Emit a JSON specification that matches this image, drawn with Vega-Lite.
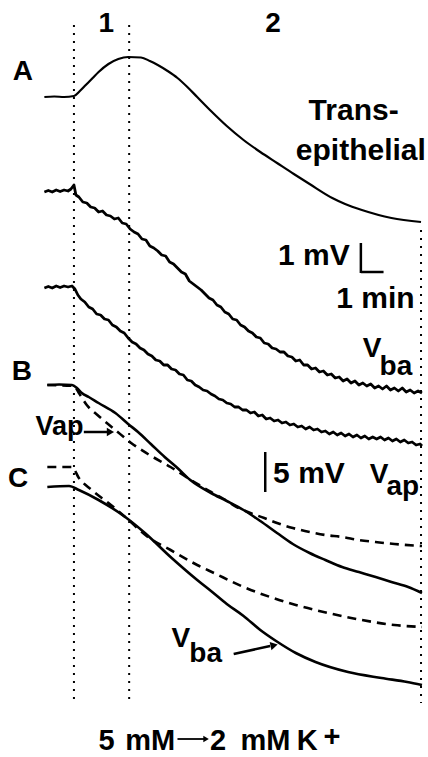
{
"$schema": "https://vega.github.io/schema/vega-lite/v6.json",
"width": 428, "height": 757, "padding": 0,
"autosize": {"type": "fit", "contains": "padding"},
"background": "white",
"config": {"view": {"stroke": null}},
"datasets": {
"traces": [
{"trace":"A","t":45,"v":97},{"trace":"A","t":55,"v":96.5},{"trace":"A","t":65,"v":97},{"trace":"A","t":75,"v":96},{"trace":"A","t":81,"v":91},{"trace":"A","t":87,"v":85},{"trace":"A","t":94,"v":78},{"trace":"A","t":100,"v":72},{"trace":"A","t":110,"v":64},{"trace":"A","t":120,"v":59},{"trace":"A","t":130,"v":57},{"trace":"A","t":143,"v":57.5},{"trace":"A","t":152,"v":61},{"trace":"A","t":160,"v":65},{"trace":"A","t":170,"v":71},{"trace":"A","t":180,"v":78},{"trace":"A","t":190,"v":87},{"trace":"A","t":200,"v":97},{"trace":"A","t":214,"v":111},{"trace":"A","t":230,"v":126},{"trace":"A","t":247,"v":140},{"trace":"A","t":264,"v":152},{"trace":"A","t":281,"v":163},{"trace":"A","t":298,"v":174},{"trace":"A","t":314,"v":184},{"trace":"A","t":337,"v":198},{"trace":"A","t":350,"v":204},{"trace":"A","t":367,"v":210},{"trace":"A","t":397,"v":218},{"trace":"A","t":427,"v":222},
{"trace":"N1","t":45,"v":192},{"trace":"N1","t":49,"v":190.5},{"trace":"N1","t":53,"v":192},{"trace":"N1","t":57,"v":190},{"trace":"N1","t":61,"v":191.5},{"trace":"N1","t":65,"v":190},{"trace":"N1","t":69,"v":191},{"trace":"N1","t":72,"v":189},{"trace":"N1","t":75,"v":185},{"trace":"N1","t":77,"v":195},{"trace":"N1","t":80,"v":197},{"trace":"N1","t":84,"v":202},{"trace":"N1","t":88,"v":203},{"trace":"N1","t":92,"v":207},{"trace":"N1","t":96,"v":208},{"trace":"N1","t":100,"v":212},{"trace":"N1","t":104,"v":211},{"trace":"N1","t":108,"v":215},{"trace":"N1","t":112,"v":216},{"trace":"N1","t":116,"v":219},{"trace":"N1","t":120,"v":218},{"trace":"N1","t":124,"v":223},{"trace":"N1","t":128,"v":224},{"trace":"N1","t":132,"v":229},{"trace":"N1","t":136,"v":232},{"trace":"N1","t":140,"v":234},{"trace":"N1","t":144,"v":239},{"trace":"N1","t":148,"v":240},{"trace":"N1","t":152,"v":246},{"trace":"N1","t":156,"v":248},{"trace":"N1","t":160,"v":251},{"trace":"N1","t":164,"v":255},{"trace":"N1","t":168,"v":256},{"trace":"N1","t":172,"v":262},{"trace":"N1","t":176,"v":264},{"trace":"N1","t":180,"v":268},{"trace":"N1","t":184,"v":272},{"trace":"N1","t":188,"v":274},{"trace":"N1","t":192,"v":281},{"trace":"N1","t":196,"v":284},{"trace":"N1","t":200,"v":287},{"trace":"N1","t":204,"v":290},{"trace":"N1","t":208,"v":294},{"trace":"N1","t":212,"v":298},{"trace":"N1","t":216,"v":300},{"trace":"N1","t":220,"v":305},{"trace":"N1","t":224,"v":307},{"trace":"N1","t":228,"v":312},{"trace":"N1","t":232,"v":314},{"trace":"N1","t":236,"v":319},{"trace":"N1","t":240,"v":320},{"trace":"N1","t":244,"v":325},{"trace":"N1","t":248,"v":327},{"trace":"N1","t":252,"v":331},{"trace":"N1","t":256,"v":333},{"trace":"N1","t":260,"v":337},{"trace":"N1","t":264,"v":338},{"trace":"N1","t":268,"v":343},{"trace":"N1","t":272,"v":344},{"trace":"N1","t":276,"v":348},{"trace":"N1","t":280,"v":349},{"trace":"N1","t":284,"v":352},{"trace":"N1","t":288,"v":352},{"trace":"N1","t":292,"v":356},{"trace":"N1","t":296,"v":357},{"trace":"N1","t":300,"v":361},{"trace":"N1","t":304,"v":360},{"trace":"N1","t":308,"v":365},{"trace":"N1","t":312,"v":365},{"trace":"N1","t":316,"v":369},{"trace":"N1","t":320,"v":368},{"trace":"N1","t":324,"v":372},{"trace":"N1","t":328,"v":371},{"trace":"N1","t":332,"v":375},{"trace":"N1","t":336,"v":374},{"trace":"N1","t":340,"v":378},{"trace":"N1","t":344,"v":377},{"trace":"N1","t":348,"v":381},{"trace":"N1","t":352,"v":379},{"trace":"N1","t":356,"v":383},{"trace":"N1","t":360,"v":381},{"trace":"N1","t":364,"v":385},{"trace":"N1","t":368,"v":383},{"trace":"N1","t":372,"v":386},{"trace":"N1","t":376,"v":384},{"trace":"N1","t":380,"v":388},{"trace":"N1","t":384,"v":386},{"trace":"N1","t":388,"v":389},{"trace":"N1","t":392,"v":386},{"trace":"N1","t":396,"v":390},{"trace":"N1","t":400,"v":388},{"trace":"N1","t":404,"v":391},{"trace":"N1","t":408,"v":388},{"trace":"N1","t":412,"v":392},{"trace":"N1","t":416,"v":390},{"trace":"N1","t":420,"v":393},{"trace":"N1","t":424,"v":391},{"trace":"N1","t":428,"v":393},
{"trace":"N2","t":45,"v":288},{"trace":"N2","t":49,"v":286.5},{"trace":"N2","t":53,"v":288},{"trace":"N2","t":57,"v":286},{"trace":"N2","t":61,"v":287.5},{"trace":"N2","t":65,"v":286},{"trace":"N2","t":69,"v":287},{"trace":"N2","t":73,"v":286},{"trace":"N2","t":76,"v":289},{"trace":"N2","t":79,"v":295},{"trace":"N2","t":82,"v":299},{"trace":"N2","t":86,"v":302},{"trace":"N2","t":90,"v":307},{"trace":"N2","t":94,"v":309},{"trace":"N2","t":98,"v":314},{"trace":"N2","t":102,"v":315},{"trace":"N2","t":106,"v":319},{"trace":"N2","t":110,"v":320},{"trace":"N2","t":114,"v":325},{"trace":"N2","t":118,"v":327},{"trace":"N2","t":122,"v":331},{"trace":"N2","t":126,"v":333},{"trace":"N2","t":130,"v":338},{"trace":"N2","t":134,"v":342},{"trace":"N2","t":138,"v":344},{"trace":"N2","t":142,"v":348},{"trace":"N2","t":146,"v":350},{"trace":"N2","t":150,"v":354},{"trace":"N2","t":154,"v":356},{"trace":"N2","t":158,"v":360},{"trace":"N2","t":162,"v":361},{"trace":"N2","t":166,"v":365},{"trace":"N2","t":170,"v":365},{"trace":"N2","t":174,"v":369},{"trace":"N2","t":178,"v":370},{"trace":"N2","t":182,"v":374},{"trace":"N2","t":186,"v":375},{"trace":"N2","t":190,"v":380},{"trace":"N2","t":194,"v":381},{"trace":"N2","t":198,"v":385},{"trace":"N2","t":202,"v":387},{"trace":"N2","t":206,"v":390},{"trace":"N2","t":210,"v":391},{"trace":"N2","t":214,"v":394},{"trace":"N2","t":218,"v":396},{"trace":"N2","t":222,"v":399},{"trace":"N2","t":226,"v":400},{"trace":"N2","t":230,"v":403},{"trace":"N2","t":234,"v":404},{"trace":"N2","t":238,"v":407},{"trace":"N2","t":242,"v":407},{"trace":"N2","t":246,"v":410},{"trace":"N2","t":250,"v":410},{"trace":"N2","t":254,"v":413},{"trace":"N2","t":258,"v":412},{"trace":"N2","t":262,"v":416},{"trace":"N2","t":266,"v":415},{"trace":"N2","t":270,"v":419},{"trace":"N2","t":274,"v":418},{"trace":"N2","t":278,"v":421},{"trace":"N2","t":282,"v":420},{"trace":"N2","t":286,"v":423},{"trace":"N2","t":290,"v":422},{"trace":"N2","t":294,"v":425},{"trace":"N2","t":298,"v":424},{"trace":"N2","t":302,"v":427},{"trace":"N2","t":306,"v":426},{"trace":"N2","t":310,"v":429},{"trace":"N2","t":314,"v":427},{"trace":"N2","t":318,"v":430},{"trace":"N2","t":322,"v":429},{"trace":"N2","t":326,"v":432},{"trace":"N2","t":330,"v":431},{"trace":"N2","t":334,"v":434},{"trace":"N2","t":338,"v":432},{"trace":"N2","t":342,"v":435},{"trace":"N2","t":346,"v":433},{"trace":"N2","t":350,"v":436},{"trace":"N2","t":354,"v":434},{"trace":"N2","t":358,"v":437},{"trace":"N2","t":362,"v":435},{"trace":"N2","t":366,"v":438},{"trace":"N2","t":370,"v":436},{"trace":"N2","t":374,"v":439},{"trace":"N2","t":378,"v":437},{"trace":"N2","t":382,"v":439},{"trace":"N2","t":386,"v":437},{"trace":"N2","t":390,"v":440},{"trace":"N2","t":394,"v":438},{"trace":"N2","t":398,"v":441},{"trace":"N2","t":402,"v":439},{"trace":"N2","t":406,"v":442},{"trace":"N2","t":410,"v":440},{"trace":"N2","t":414,"v":443},{"trace":"N2","t":418,"v":442},{"trace":"N2","t":422,"v":445},{"trace":"N2","t":426,"v":444},{"trace":"N2","t":428,"v":446},
{"trace":"Bs","t":48,"v":385},{"trace":"Bs","t":60,"v":384.5},{"trace":"Bs","t":73,"v":385},{"trace":"Bs","t":78,"v":388},{"trace":"Bs","t":83,"v":393},{"trace":"Bs","t":90,"v":397},{"trace":"Bs","t":100,"v":403},{"trace":"Bs","t":117,"v":413},{"trace":"Bs","t":130,"v":424},{"trace":"Bs","t":140,"v":432},{"trace":"Bs","t":153,"v":444},{"trace":"Bs","t":167,"v":457},{"trace":"Bs","t":180,"v":468},{"trace":"Bs","t":193,"v":480},{"trace":"Bs","t":214,"v":493},{"trace":"Bs","t":230,"v":501},{"trace":"Bs","t":247,"v":510},{"trace":"Bs","t":264,"v":521},{"trace":"Bs","t":281,"v":533},{"trace":"Bs","t":297,"v":544},{"trace":"Bs","t":314,"v":553},{"trace":"Bs","t":330,"v":560},{"trace":"Bs","t":347,"v":567},{"trace":"Bs","t":364,"v":572},{"trace":"Bs","t":381,"v":577},{"trace":"Bs","t":397,"v":582},{"trace":"Bs","t":414,"v":587},{"trace":"Bs","t":428,"v":593},
{"trace":"Bd","t":48,"v":385},{"trace":"Bd","t":75,"v":386},{"trace":"Bd","t":80,"v":393},{"trace":"Bd","t":88,"v":405},{"trace":"Bd","t":100,"v":416},{"trace":"Bd","t":117,"v":430},{"trace":"Bd","t":133,"v":443},{"trace":"Bd","t":150,"v":454},{"trace":"Bd","t":173,"v":467},{"trace":"Bd","t":197,"v":482},{"trace":"Bd","t":214,"v":492},{"trace":"Bd","t":227,"v":499},{"trace":"Bd","t":240,"v":507},{"trace":"Bd","t":254,"v":513},{"trace":"Bd","t":268,"v":518},{"trace":"Bd","t":281,"v":523},{"trace":"Bd","t":297,"v":528},{"trace":"Bd","t":314,"v":532},{"trace":"Bd","t":330,"v":535},{"trace":"Bd","t":347,"v":537},{"trace":"Bd","t":364,"v":540},{"trace":"Bd","t":381,"v":542},{"trace":"Bd","t":400,"v":544},{"trace":"Bd","t":428,"v":546},
{"trace":"Cd","t":48,"v":467},{"trace":"Cd","t":73,"v":467},{"trace":"Cd","t":80,"v":478},{"trace":"Cd","t":93,"v":490},{"trace":"Cd","t":110,"v":503},{"trace":"Cd","t":127,"v":517},{"trace":"Cd","t":150,"v":537},{"trace":"Cd","t":173,"v":550},{"trace":"Cd","t":200,"v":565},{"trace":"Cd","t":217,"v":573},{"trace":"Cd","t":247,"v":587},{"trace":"Cd","t":274,"v":597},{"trace":"Cd","t":300,"v":605},{"trace":"Cd","t":333,"v":613},{"trace":"Cd","t":367,"v":620},{"trace":"Cd","t":400,"v":625},{"trace":"Cd","t":428,"v":627},
{"trace":"Cs","t":48,"v":487},{"trace":"Cs","t":70,"v":486},{"trace":"Cs","t":80,"v":490},{"trace":"Cs","t":100,"v":500},{"trace":"Cs","t":127,"v":517},{"trace":"Cs","t":147,"v":533},{"trace":"Cs","t":173,"v":557},{"trace":"Cs","t":200,"v":580},{"trace":"Cs","t":214,"v":591},{"trace":"Cs","t":230,"v":604},{"trace":"Cs","t":247,"v":616},{"trace":"Cs","t":264,"v":630},{"trace":"Cs","t":280,"v":641},{"trace":"Cs","t":300,"v":653},{"trace":"Cs","t":320,"v":662},{"trace":"Cs","t":353,"v":672},{"trace":"Cs","t":387,"v":678},{"trace":"Cs","t":413,"v":682},{"trace":"Cs","t":428,"v":685}
],
"dots": [{"t":75,"v":25,"t2":75,"v2":703},{"t":131,"v":25,"t2":131,"v2":703},{"t":427,"v":230,"t2":427,"v2":703}],
"bars": [{"t":366,"v":243,"t2":366,"v2":273},{"t":366,"v":272,"t2":389,"v2":272},{"t":269,"v":452,"t2":269,"v2":492},{"t":85,"v":432,"t2":110,"v2":432},{"t":237,"v":654,"t2":274,"v2":646}],
"heads": [{"t":112,"v":432,"dir":0},{"t":278,"v":645.3,"dir":-12}],
"kline": [{"t":180,"v":739,"t2":207,"v2":739}],
"khead": [{"t":209,"v":739,"dir":0}],
"labels28": [{"label":"1","t":100,"v":32},{"label":"2","t":269,"v":32},{"label":"A","t":13,"v":80},{"label":"B","t":12,"v":380},{"label":"C","t":8,"v":487},{"label":"V","t":368,"v":357},{"label":"ba","t":385,"v":375},{"label":"V","t":375,"v":483},{"label":"ap","t":392,"v":495},{"label":"V","t":174,"v":647},{"label":"ba","t":192,"v":662}],
"labels30": [{"label":"Trans-","t":313,"v":120},{"label":"epithelial","t":300,"v":160},{"label":"1 mV","t":282,"v":265},{"label":"1 min","t":341,"v":308},{"label":"5 mV","t":277,"v":483}],
"bottom": [{"label":"5","t":100,"v":750},{"label":"mM","t":127,"v":750},{"label":"2","t":213,"v":750},{"label":"mM","t":244,"v":750},{"label":"K","t":301,"v":750},{"label":"+","t":328,"v":746}],
"vap": [{"label":"Vap","t":36,"v":435}]
},
"encoding": {
"x": {"field":"t","type":"quantitative","scale":{"domain":[0,428],"nice":false,"zero":false},"axis":null},
"y": {"field":"v","type":"quantitative","scale":{"domain":[0,757],"nice":false,"zero":false,"reverse":true},"axis":null}
},
"layer": [
{"data":{"name":"dots"},"mark":{"type":"rule","color":"black","strokeWidth":2,"strokeDash":[2,6]},"encoding":{"x2":{"field":"t2"},"y2":{"field":"v2"}}},
{"data":{"name":"traces"},"transform":[{"filter":"datum.trace==='A'"}],"mark":{"type":"line","color":"black","strokeWidth":2.2,"interpolate":"monotone"}},
{"data":{"name":"traces"},"transform":[{"filter":"datum.trace==='N1' || datum.trace==='N2'"}],"mark":{"type":"line","color":"black","strokeWidth":2.8,"strokeJoin":"round"},"encoding":{"detail":{"field":"trace"}}},
{"data":{"name":"traces"},"transform":[{"filter":"datum.trace==='Bs' || datum.trace==='Cs'"}],"mark":{"type":"line","color":"black","strokeWidth":2.6,"interpolate":"monotone"},"encoding":{"detail":{"field":"trace"}}},
{"data":{"name":"traces"},"transform":[{"filter":"datum.trace==='Bd' || datum.trace==='Cd'"}],"mark":{"type":"line","color":"black","strokeWidth":2.6,"interpolate":"monotone","strokeDash":[9,6]},"encoding":{"detail":{"field":"trace"}}},
{"data":{"name":"bars"},"mark":{"type":"rule","color":"black","strokeWidth":2.5},"encoding":{"x2":{"field":"t2"},"y2":{"field":"v2"}}},
{"data":{"name":"heads"},"mark":{"type":"point","shape":"triangle-right","filled":true,"color":"black","size":70,"opacity":1},"encoding":{"angle":{"field":"dir","type":"quantitative","scale":null}}},
{"data":{"name":"kline"},"mark":{"type":"rule","color":"black","strokeWidth":1.8},"encoding":{"x2":{"field":"t2"},"y2":{"field":"v2"}}},
{"data":{"name":"khead"},"mark":{"type":"point","shape":"triangle-right","filled":true,"color":"black","size":40,"opacity":1},"encoding":{"angle":{"field":"dir","type":"quantitative","scale":null}}},
{"data":{"name":"labels28"},"mark":{"type":"text","align":"left","baseline":"alphabetic","font":"Liberation Sans","fontWeight":"bold","fontSize":28,"color":"black"},"encoding":{"text":{"field":"label"}}},
{"data":{"name":"labels30"},"mark":{"type":"text","align":"left","baseline":"alphabetic","font":"Liberation Sans","fontWeight":"bold","fontSize":30,"color":"black"},"encoding":{"text":{"field":"label"}}},
{"data":{"name":"bottom"},"mark":{"type":"text","align":"left","baseline":"alphabetic","font":"Liberation Sans","fontWeight":"bold","fontSize":29,"color":"black"},"encoding":{"text":{"field":"label"}}},
{"data":{"name":"vap"},"mark":{"type":"text","align":"left","baseline":"alphabetic","font":"Liberation Sans","fontWeight":"bold","fontSize":27,"color":"black"},"encoding":{"text":{"field":"label"}}}
]
}
